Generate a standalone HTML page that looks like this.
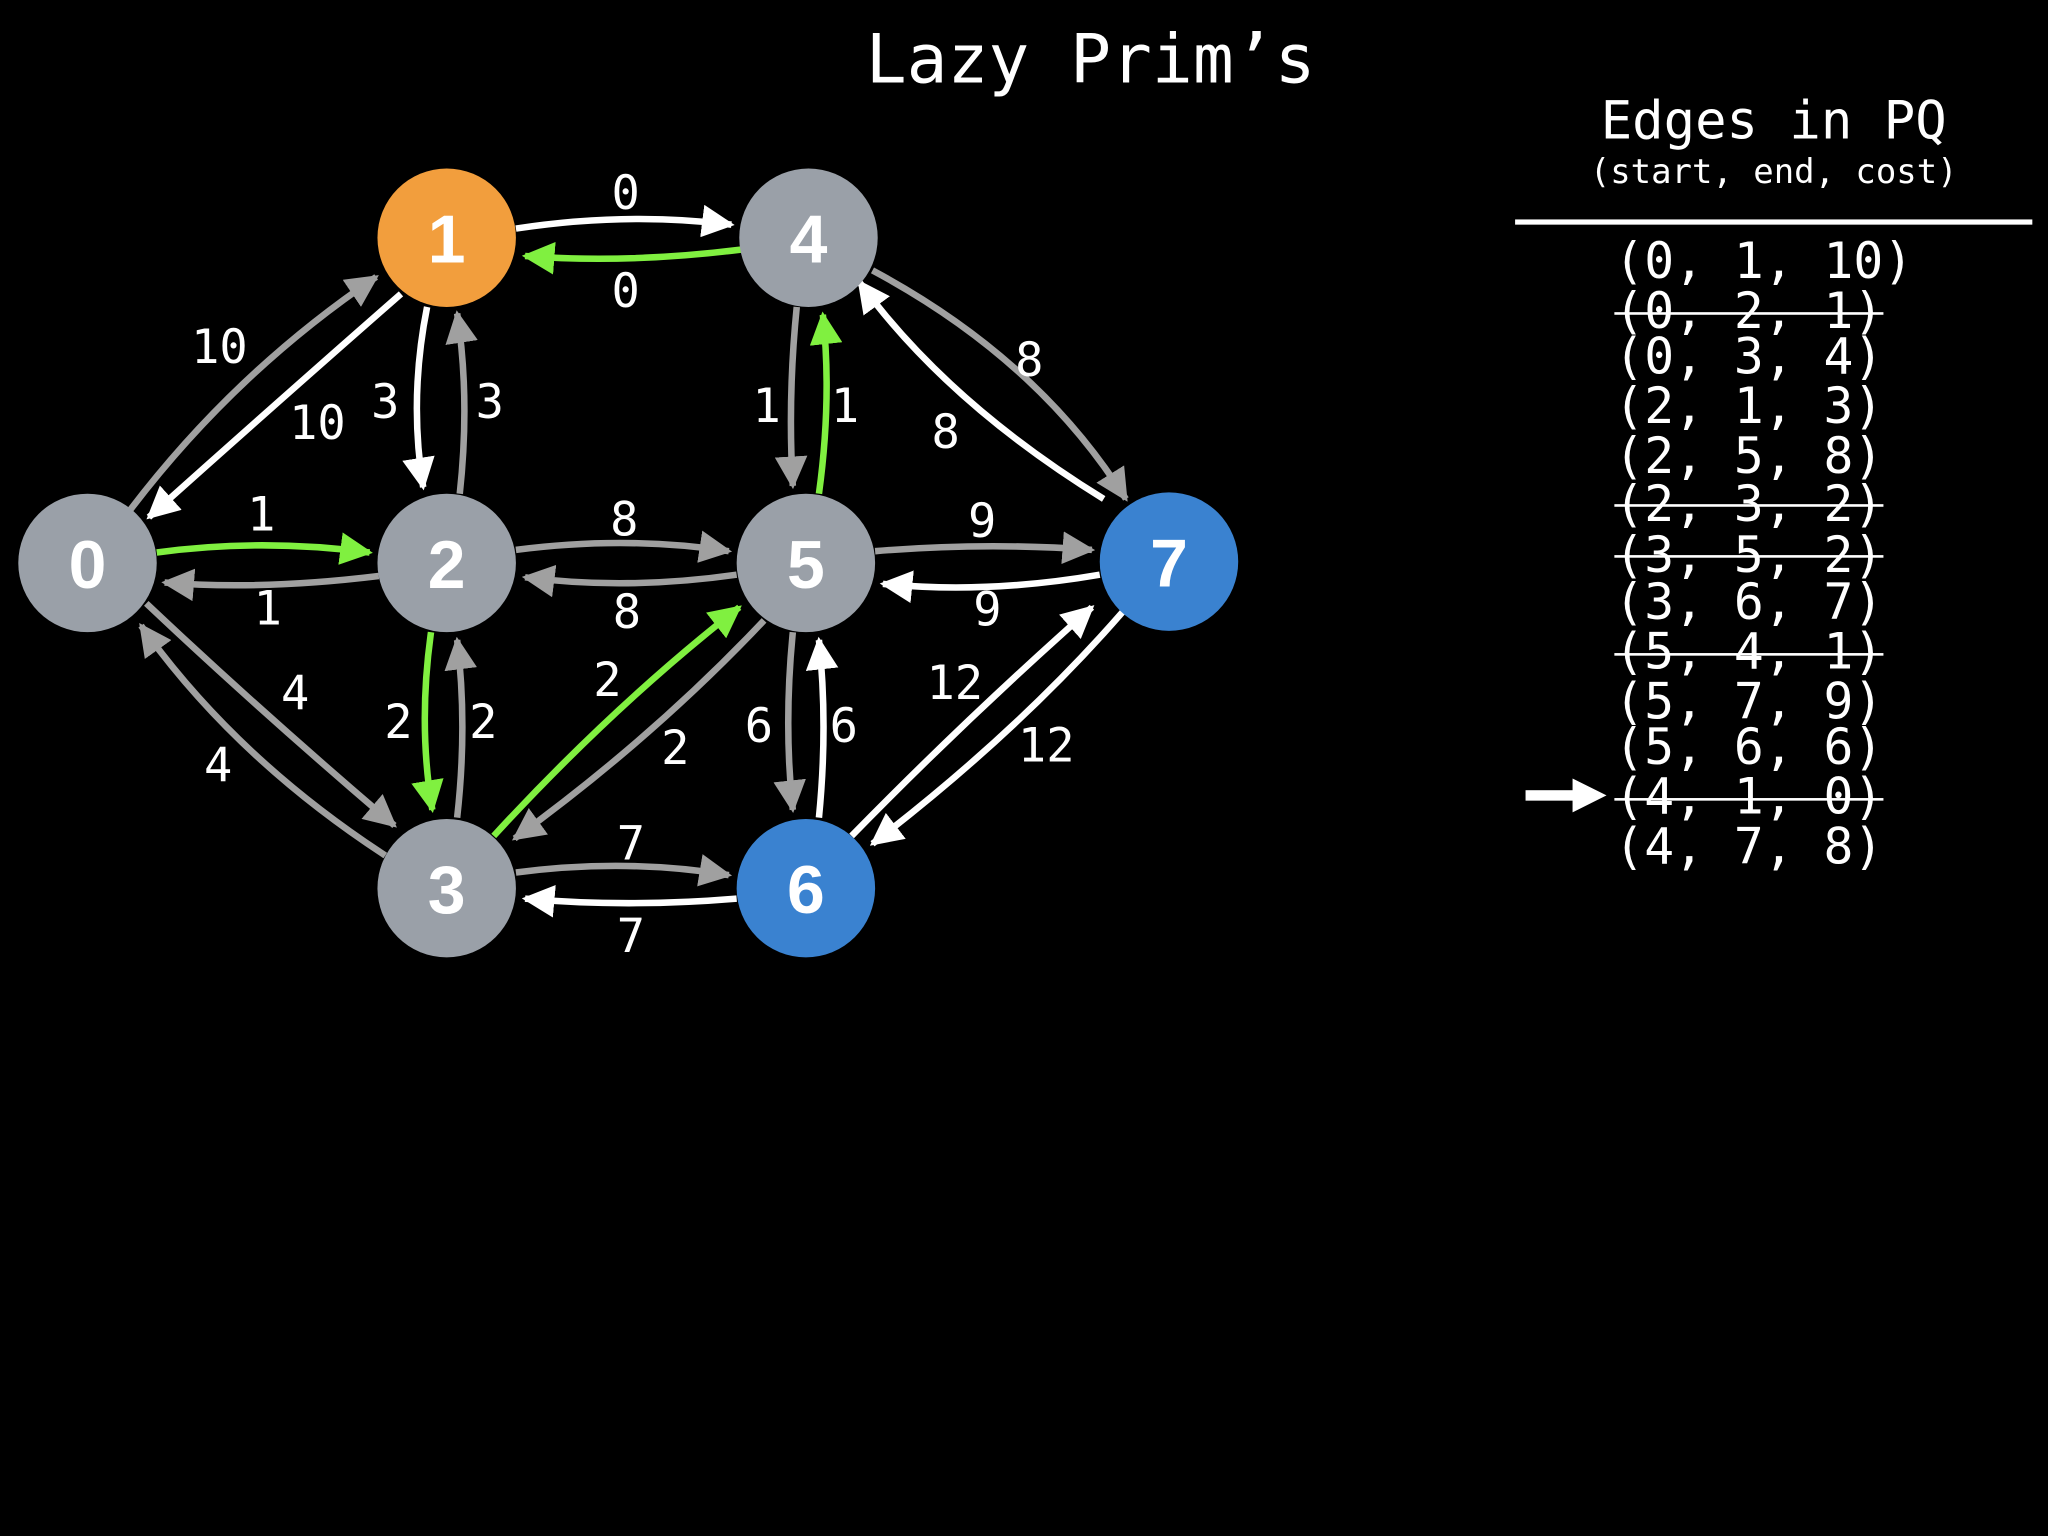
<!DOCTYPE html>
<html><head><meta charset="utf-8"><style>
html,body{margin:0;padding:0;background:#000;}
svg{display:block;}
.m{font-family:"DejaVu Sans Mono","Liberation Mono",monospace;fill:#fff;}
.n{font-family:"Liberation Sans",sans-serif;font-weight:bold;fill:#fff;font-size:52px;text-anchor:middle;}
.l{font-family:"DejaVu Sans Mono","Liberation Mono",monospace;fill:#fff;font-size:36px;text-anchor:middle;}
</style></head><body>
<svg width="2048" height="1536" viewBox="0 0 1568 1176" xmlns="http://www.w3.org/2000/svg">
<defs>
<marker id="aw" viewBox="0 0 10 10" refX="9" refY="5" markerWidth="5" markerHeight="5" orient="auto" markerUnits="strokeWidth"><path d="M0,0 L10,5 L0,10 z" fill="#fff"/></marker>
<marker id="ag" viewBox="0 0 10 10" refX="9" refY="5" markerWidth="5" markerHeight="5" orient="auto" markerUnits="strokeWidth"><path d="M0,0 L10,5 L0,10 z" fill="#a0a0a0"/></marker>
<marker id="aG" viewBox="0 0 10 10" refX="9" refY="5" markerWidth="5" markerHeight="5" orient="auto" markerUnits="strokeWidth"><path d="M0,0 L10,5 L0,10 z" fill="#80f040"/></marker>
</defs>
<rect width="1568" height="1176" fill="#000"/>
<text class="m" x="835" y="63" font-size="52" text-anchor="middle">Lazy Prim’s</text>

<g fill="none" stroke-width="5">
<g stroke="#fff" marker-end="url(#aw)">
<path d="M395,175 Q480,162 560,172"/>
<path d="M307,225 Q210,310 114,396"/>
<path d="M327,235 Q313,305 324,373"/>
<path d="M845,382 Q725,308 658,216"/>
<path d="M842,440 Q755,455 676,447"/>
<path d="M627,626 Q634,555 627,490"/>
<path d="M652,640 Q740,550 836,465"/>
<path d="M860,468 Q780,560 668,646"/>
<path d="M564,688 Q480,695 402,688"/>
</g>
<g stroke="#a0a0a0" marker-end="url(#ag)">
<path d="M100,390 Q180,285 288,212"/>
<path d="M352,378 Q360,305 350,240"/>
<path d="M610,235 Q603,305 607,372"/>
<path d="M668,207 Q795,275 862,382"/>
<path d="M290,441 Q200,452 126,446"/>
<path d="M395,421 Q480,410 558,422"/>
<path d="M564,440 Q480,452 402,442"/>
<path d="M670,422 Q755,415 836,421"/>
<path d="M112,462 Q200,545 302,632"/>
<path d="M295,655 Q180,580 108,479"/>
<path d="M350,626 Q358,555 350,490"/>
<path d="M585,475 Q500,565 394,642"/>
<path d="M607,484 Q600,555 607,620"/>
<path d="M395,668 Q480,657 558,670"/>
</g>
<g stroke="#80f040" marker-end="url(#aG)">
<path d="M568,191 Q480,202 402,196"/>
<path d="M627,378 Q637,305 630,241"/>
<path d="M120,423 Q200,412 283,423"/>
<path d="M330,484 Q320,555 331,620"/>
<path d="M378,640 Q470,540 566,465"/>
</g>
</g>

<g>
<circle cx="67" cy="431" r="53" fill="#9aa0a8"/>
<circle cx="342" cy="182" r="53" fill="#f29e3d"/>
<circle cx="342" cy="431" r="53" fill="#9aa0a8"/>
<circle cx="342" cy="680" r="53" fill="#9aa0a8"/>
<circle cx="619" cy="182" r="53" fill="#9aa0a8"/>
<circle cx="617" cy="431" r="53" fill="#9aa0a8"/>
<circle cx="617" cy="680" r="53" fill="#3a82d0"/>
<circle cx="895" cy="430" r="53" fill="#3a82d0"/>
</g>
<text class="n" x="67" y="450">0</text>
<text class="n" x="342" y="201">1</text>
<text class="n" x="342" y="450">2</text>
<text class="n" x="342" y="699">3</text>
<text class="n" x="619" y="201">4</text>
<text class="n" x="617" y="450">5</text>
<text class="n" x="617" y="699">6</text>
<text class="n" x="895" y="449">7</text>

<g class="l">
<text x="168" y="278">10</text><text x="243" y="336">10</text>
<text x="479" y="160">0</text><text x="479" y="235">0</text>
<text x="295" y="320">3</text><text x="375" y="320">3</text>
<text x="587" y="323">1</text><text x="647" y="323">1</text>
<text x="788" y="288">8</text><text x="724" y="343">8</text>
<text x="200" y="406">1</text><text x="205" y="478">1</text>
<text x="478" y="410">8</text><text x="480" y="481">8</text>
<text x="752" y="411">9</text><text x="756" y="479">9</text>
<text x="226" y="543">4</text><text x="167" y="598">4</text>
<text x="305" y="565">2</text><text x="370" y="565">2</text>
<text x="465" y="533">2</text><text x="517" y="585">2</text>
<text x="581" y="568">6</text><text x="646" y="568">6</text>
<text x="731" y="535">12</text><text x="801" y="583">12</text>
<text x="483" y="658">7</text><text x="483" y="729">7</text>
</g>

<text class="m" x="1358" y="106" font-size="40" text-anchor="middle">Edges in PQ</text>
<text class="m" x="1358" y="140" font-size="26" text-anchor="middle">(start, end, cost)</text>
<rect x="1160" y="168" width="396" height="4" fill="#fff"/>
<g class="m" font-size="38">
<text x="1236" y="213">(0, 1, 10)</text>
<text x="1236" y="251">(0, 2, 1)</text>
<text x="1236" y="286">(0, 3, 4)</text>
<text x="1236" y="324">(2, 1, 3)</text>
<text x="1236" y="362">(2, 5, 8)</text>
<text x="1236" y="399">(2, 3, 2)</text>
<text x="1236" y="438">(3, 5, 2)</text>
<text x="1236" y="474">(3, 6, 7)</text>
<text x="1236" y="512">(5, 4, 1)</text>
<text x="1236" y="550">(5, 7, 9)</text>
<text x="1236" y="585">(5, 6, 6)</text>
<text x="1236" y="623">(4, 1, 0)</text>
<text x="1236" y="661">(4, 7, 8)</text>
</g>
<g fill="#fff">
<rect x="1236" y="239" width="206" height="2"/>
<rect x="1236" y="386" width="206" height="2"/>
<rect x="1236" y="425" width="206" height="2"/>
<rect x="1236" y="500" width="206" height="2"/>
<rect x="1236" y="611" width="206" height="2"/>
<rect x="1168" y="605" width="40" height="8"/>
<path d="M1204,596 L1230,609 L1204,622 z"/>
</g>
</svg>
</body></html>
